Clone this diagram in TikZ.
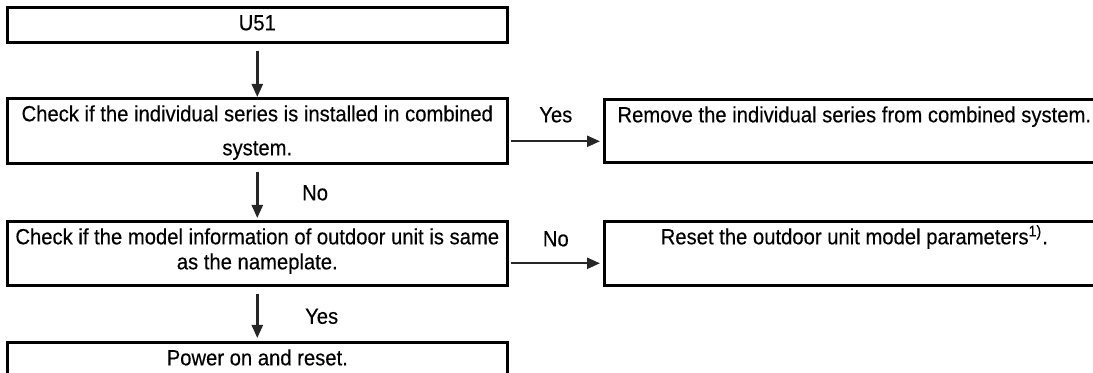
\documentclass[tikz,border=0pt]{standalone}
\usepackage{fontspec}
\setmainfont{Liberation Sans}[FakeStretch=0.92,FakeBold=0.3]
\usetikzlibrary{arrows.meta}
\newcommand{\boxtext}[2]{\parbox[t][#1][t]{250pt}{\centering\rule{0pt}{11.5pt}#2}}

\begin{document}
\begin{tikzpicture}[x=0.5pt,y=-0.5pt,>={Triangle[length=6.5pt,width=5.5pt]},font=\fontsize{11}{12.5}\selectfont,
  flowbox/.style={draw,line width=1.3pt,inner sep=0pt,anchor=north west},
  flowarrow/.style={->,line width=1.2pt,draw=black!85,fill=black!85}]
\useasboundingbox (0,0) rectangle (1093,373);
\clip (0,0) rectangle (1093,373);
% left column
\node[flowbox] (u51) at (6,6) {\boxtext{17.5pt}{U51}};
\node[flowbox] (chk1) at (6,97) {\boxtext{32.5pt}{Check if the individual series is installed in combined\\[4.5pt] system.}};
\node[flowbox] (chk2) at (6,220) {\boxtext{32pt}{Check if the model information of outdoor unit is same\\ as the nameplate.}};
\node[flowbox] (power) at (6,341) {\boxtext{17.5pt}{Power on and reset.}};
% right column
\node[flowbox] (remove) at (603,98) {\boxtext{31.5pt}{Remove the individual series from combined system.}};
\node[flowbox] (reset) at (603,220) {\boxtext{32pt}{Reset the outdoor unit model parameters\textsuperscript{1)}.}};
% arrows
\draw[flowarrow,shorten <=3.5pt] (u51) -- (chk1);
\draw[flowarrow,shorten <=3.5pt,shorten >=1pt] (chk1) -- (chk2)
  node[midway,anchor=base west,xshift=18.5pt,yshift=-4pt,text=black]{No};
\draw[flowarrow,shorten <=3.5pt,shorten >=1.5pt] (chk2) -- (power)
  node[midway,anchor=base west,xshift=20pt,yshift=-5pt,text=black]{Yes};
\draw[flowarrow,shorten <=1pt,shorten >=1.5pt] ([yshift=-5.25pt]chk1.east) -- ([yshift=-5.25pt]chk1.east -| remove.west)
  node[midway,anchor=base,yshift=9.5pt,text=black]{Yes};
\draw[flowarrow,shorten <=1pt,shorten >=1.5pt] ([yshift=-5pt]chk2.east) -- ([yshift=-5pt]chk2.east -| reset.west)
  node[midway,anchor=base,yshift=8.5pt,text=black]{No};
\end{tikzpicture}
\end{document}
